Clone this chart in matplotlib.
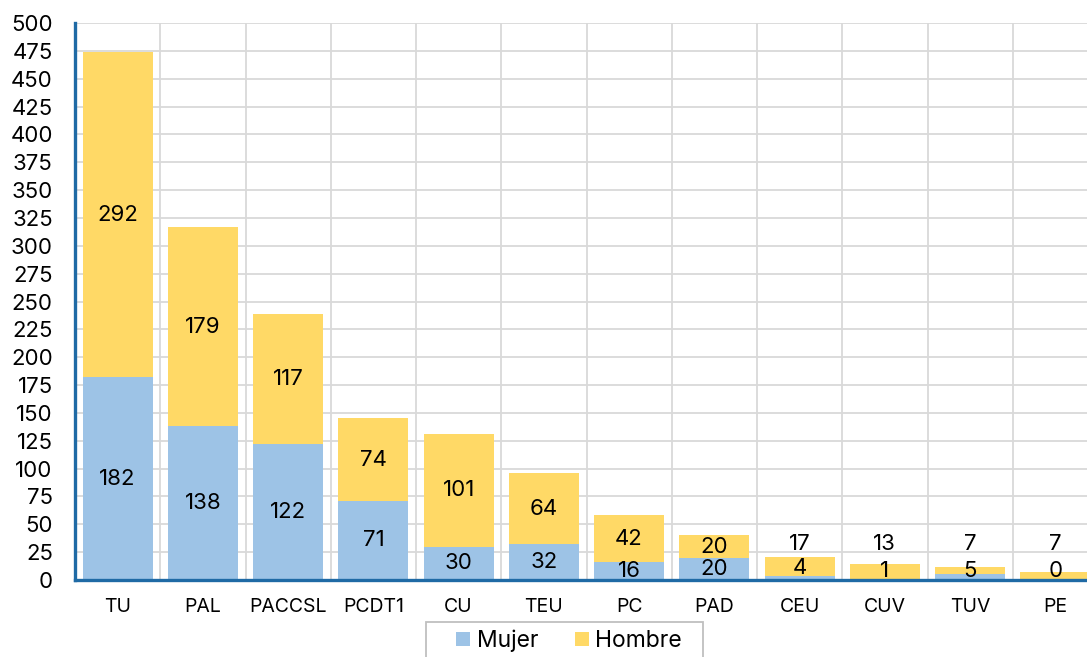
import numpy as np
import matplotlib.pyplot as plt
from matplotlib.patches import Rectangle

categorias = ["TU", "PAL", "PACCSL", "PCDT1", "CU", "TEU", "PC", "PAD", "CEU", "CUV", "TUV", "PE"]
mujer = [182, 138, 122, 71, 30, 32, 16, 20, 4, 1, 5, 0]
hombre = [292, 179, 117, 74, 101, 64, 42, 20, 17, 13, 7, 7]

plt.rcParams['font.family'] = ['Inter', 'DejaVu Sans']

azul = '#9DC3E6'
amarillo = '#FFD966'
eje = '#1F6AA5'

fig = plt.figure(figsize=(10.87, 6.57), dpi=100)
ax = fig.add_axes([75 / 1087, 1 - 580 / 657, 1023 / 1087, 557 / 657])

x = np.arange(len(categorias))
ax.bar(x, mujer, width=0.82, color=azul, label="Mujer", zorder=2)
ax.bar(x, hombre, width=0.82, bottom=mujer, color=amarillo, label="Hombre", zorder=2)

# etiquetas de datos
for i in range(len(categorias)):
    m, h = mujer[i], hombre[i]
    total = m + h
    if h < 20:
        y_h = 32
        y_m = max(total / 2, 8)
    else:
        y_h = m + h / 2
        y_m = m / 2
    ax.text(i, y_m, str(m), ha='center', va='center', fontsize=16, color='black', zorder=3)
    ax.text(i, y_h, str(h), ha='center', va='center', fontsize=16, color='black', zorder=3)

ax.set_xlim(-0.5, len(categorias) - 0.5)
ax.set_ylim(0, 500)
ax.set_yticks(np.arange(0, 501, 25))
ax.set_xticks(x)
ax.set_xticklabels(categorias)
ax.set_xticks(np.arange(-0.5, len(categorias), 1), minor=True)

ax.grid(axis='y', which='major', color='#D9D9D9', linewidth=1.3, zorder=0)
ax.grid(axis='x', which='minor', color='#D9D9D9', linewidth=1.3, zorder=0)
ax.set_axisbelow(True)

ax.tick_params(axis='y', length=0, pad=16, labelsize=16)
ax.tick_params(axis='x', which='both', length=0, pad=13, labelsize=14)

for s in ['top', 'right']:
    ax.spines[s].set_visible(False)
for s in ['left', 'bottom']:
    ax.spines[s].set_color(eje)
    ax.spines[s].set_linewidth(2.4)

# leyenda sin marco + marco aparte (sale por abajo de la imagen)
fig.legend(loc='center', bbox_to_anchor=(569 / 1087, 1 - 641 / 657), ncol=2,
           fontsize=16.5, frameon=False,
           handlelength=0.6, handleheight=0.6, handletextpad=0.3, columnspacing=1.6,
           borderpad=0)
fig.patches.append(Rectangle((426 / 1087, -0.05), 277 / 1087, 0.05 + 1 - 622 / 657,
                             transform=fig.transFigure, fill=False,
                             edgecolor='#BFBFBF', linewidth=1.3))

fig.savefig("out.png", dpi=100)
